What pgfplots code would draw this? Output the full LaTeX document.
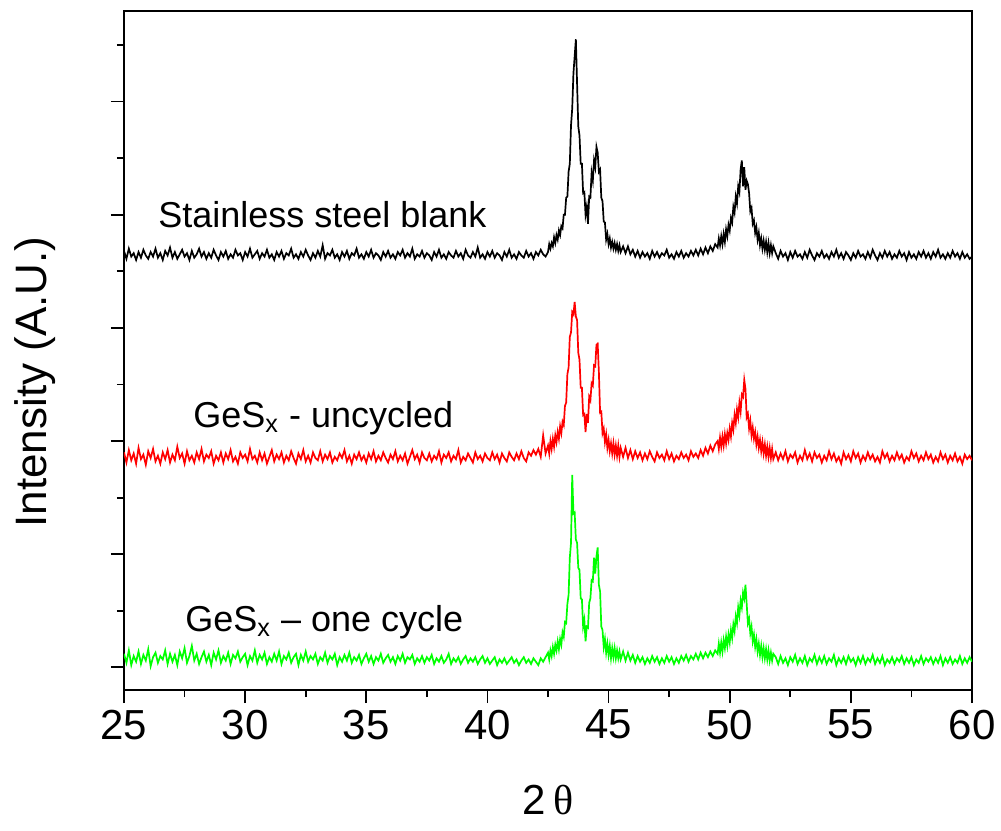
\documentclass[border=0pt]{standalone}
\usepackage{fontspec}
\setmainfont{Liberation Sans}
\newfontfamily\seriffont{Liberation Serif}
\usepackage{pgfplots}
\pgfplotsset{compat=1.18}
\usepackage{pgfplotstable}
\pgfplotstableread{
x k r g
25.0 368 190 12
25.1 361 181 4
25.2 370 192 15
25.3 363 183 2
25.4 366 189 10
25.5 360 180 5
25.6 367 194 14
25.7 362 184 3
25.8 369 188 11
25.9 364 179 6
26.0 361 191 16
26.1 367 185 1
26.2 363 193 9
26.3 370 182 13
26.4 362 187 4
26.5 366 180 10
26.6 360 190 7
26.7 368 184 15
26.8 364 192 3
26.9 371 181 12
27.0 362 188 5
27.1 367 183 11
27.2 361 195 2
27.3 365 185 14
27.4 369 189 8
27.5 363 180 17
27.6 366 191 4
27.7 360 183 10
27.8 368 187 19
27.9 362 181 6
28.0 365 190 12
28.1 370 184 3
28.2 363 193 9
28.3 367 182 14
28.4 361 188 5
28.5 366 185 11
28.6 362 191 2
28.7 369 180 13
28.8 364 187 7
28.9 360 183 15
29.0 367 190 4
29.1 363 181 10
29.2 368 189 6
29.3 361 184 13
29.4 365 192 3
29.5 362 182 11
29.6 369 186 8
29.7 364 180 14
29.8 366 190 5
29.9 360 185 9
30.0 367 188 12
30.1 363 182 2
30.2 370 193 10
30.3 362 184 6
30.4 365 187 15
30.5 368 181 4
30.6 361 190 11
30.7 366 183 7
30.8 363 189 13
30.9 369 180 3
31.0 362 186 9
31.1 365 192 5
31.2 360 182 12
31.3 367 188 6
31.4 363 184 14
31.5 368 190 3
31.6 361 181 10
31.7 366 187 7
31.8 364 183 13
31.9 370 191 4
32.0 362 185 9
32.1 365 180 12
32.2 361 189 2
32.3 367 184 11
32.4 363 192 6
32.5 369 182 14
32.6 364 187 5
32.7 360 181 10
32.8 366 190 7
32.9 362 185 12
33.0 368 183 3
33.1 363 191 9
33.2 373 182 6
33.3 361 188 13
33.4 366 184 4
33.5 364 190 10
33.6 369 181 7
33.7 362 186 12
33.8 365 183 2
33.9 360 189 9
34.0 367 185 5
34.1 363 192 11
34.2 368 182 6
34.3 361 187 13
34.4 366 180 4
34.5 364 188 9
34.6 370 184 6
34.7 362 190 11
34.8 365 183 3
34.9 361 187 8
35.0 367 181 12
35.1 363 189 5
35.2 369 184 10
35.3 362 191 3
35.4 366 182 9
35.5 364 187 6
35.6 360 183 12
35.7 367 190 4
35.8 363 185 8
35.9 368 181 11
36.0 362 188 5
36.1 365 184 9
36.2 361 191 3
36.3 367 182 10
36.4 364 187 6
36.5 369 183 12
36.6 362 189 4
36.7 366 180 9
36.8 363 186 7
36.9 370 192 11
37.0 361 184 3
37.1 365 188 8
37.2 363 181 5
37.3 368 190 10
37.4 362 185 4
37.5 366 183 9
37.6 364 189 6
37.7 360 182 11
37.8 367 187 3
37.9 363 184 8
38.0 369 191 5
38.1 362 181 10
38.2 365 188 4
38.3 361 185 7
38.4 367 190 12
38.5 364 182 3
38.6 362 187 8
38.7 368 184 5
38.8 363 192 9
38.9 366 181 3
39.0 361 186 7
39.1 369 183 10
39.2 364 189 4
39.3 362 185 8
39.4 367 181 5
39.5 363 190 9
39.6 371 184 3
39.7 362 187 7
39.8 365 182 10
39.9 361 189 4
40.0 367 185 8
40.1 363 183 3
40.2 368 190 6
40.3 362 184 9
40.4 366 188 2
40.5 364 181 7
40.6 360 189 4
40.7 367 185 8
40.8 363 182 3
40.9 369 190 6
41.0 362 186 9
41.1 365 183 4
41.2 361 189 7
41.3 367 184 2
41.4 364 191 6
41.5 362 185 9
41.6 368 182 4
41.7 363 190 7
41.8 366 187 3
41.9 361 192 8
42.0 367 188 5
42.1 364 193 2
42.2 369 186 8
42.3 365 205 5
42.4 363 189 9
42.5 367 196 13
42.55 374 189 7
42.6 370 200 15
42.65 375 193 10
42.7 372 202 18
42.75 380 195 12
42.8 375 205 20
42.85 382 199 15
42.9 378 208 23
42.95 386 202 16
43.0 382 213 25
43.05 390 207 20
43.1 388 217 31
43.15 400 214 27
43.2 400 231 40
43.25 415 234 39
43.3 416 259 56
43.35 438 265 64
43.4 445 292 97
43.45 479 296 110
43.5 494 314 170
43.55 525 312 136
43.6 540 323 137
43.65 555 310 113
43.7 516 307 110
43.75 478 278 88
43.8 470 272 86
43.85 445 247 61
43.9 445 247 60
43.95 419 223 36
44.0 420 224 42
44.05 400 208 23
44.1 407 224 36
44.15 392 216 35
44.2 416 239 57
44.25 415 236 61
44.3 437 251 77
44.35 430 249 76
44.4 448 267 97
44.45 442 266 83
44.5 460 285 98
44.55 455 286 106
44.6 438 261 73
44.65 440 225 67
44.7 415 226 36
44.75 412 207 33
44.8 394 211 18
44.85 393 199 25
44.9 378 206 13
44.95 383 194 21
45.0 374 201 11
45.05 379 191 19
45.1 371 198 8
45.15 376 189 17
45.2 370 198 9
45.25 375 188 17
45.3 369 196 8
45.35 374 187 15
45.4 368 196 8
45.45 373 186 14
45.5 367 194 7
45.6 372 186 14
45.7 366 194 6
45.8 372 185 13
45.9 365 192 6
46.0 369 184 11
46.1 363 191 4
46.2 368 185 10
46.3 362 190 5
46.4 367 183 9
46.5 363 189 3
46.6 366 184 8
46.7 361 191 4
46.8 368 186 10
46.9 363 182 5
47.0 367 190 9
47.1 362 185 3
47.2 366 188 8
47.3 364 183 4
47.4 369 191 10
47.5 362 184 5
47.6 365 189 9
47.7 361 182 3
47.8 367 187 8
47.9 363 184 4
48.0 368 190 10
48.1 362 185 6
48.2 366 188 11
48.3 363 183 5
48.4 368 191 10
48.5 364 186 7
48.6 369 189 12
48.7 364 185 7
48.8 370 192 13
48.9 365 187 8
49.0 371 194 13
49.1 366 189 9
49.2 372 196 14
49.3 368 191 10
49.4 374 197 15
49.5 371 200 12
49.55 379 193 21
49.6 373 203 13
49.65 381 195 22
49.7 374 204 14
49.75 383 196 24
49.8 376 206 17
49.85 387 198 27
49.9 381 207 19
49.95 391 201 29
50.0 386 211 22
50.05 397 204 33
50.1 393 216 26
50.15 407 210 38
50.2 402 223 32
50.25 416 216 45
50.3 410 228 39
50.35 425 221 53
50.4 420 234 46
50.45 440 226 59
50.5 448 241 53
50.55 425 239 66
50.6 442 254 61
50.65 422 246 73
50.7 430 221 56
50.75 427 224 39
50.8 419 211 43
50.85 403 218 30
50.9 406 205 36
50.95 392 212 23
51.0 395 202 29
51.05 384 208 18
51.1 389 197 25
51.15 378 204 14
51.2 384 194 21
51.25 373 201 11
51.3 379 191 19
51.35 370 199 9
51.4 377 189 17
51.45 369 197 8
51.5 376 187 16
51.55 367 195 7
51.6 375 186 15
51.65 366 194 6
51.7 373 185 13
51.75 366 193 6
51.8 372 184 12
51.9 366 190 9
52.0 361 183 3
52.1 368 189 10
52.2 363 184 4
52.3 366 191 8
52.4 360 182 2
52.5 367 188 9
52.6 362 185 5
52.7 368 190 11
52.8 363 181 3
52.9 365 187 8
53.0 361 183 4
53.1 367 192 10
53.2 362 184 2
53.3 369 189 8
53.4 364 182 5
53.5 360 190 11
53.6 366 185 3
53.7 363 188 9
53.8 368 181 4
53.9 362 187 10
54.0 365 183 3
54.1 361 191 8
54.2 367 184 5
54.3 363 189 11
54.4 369 182 2
54.5 362 186 8
54.6 366 180 4
54.7 361 190 9
54.8 367 184 3
54.9 364 188 10
55.0 360 182 5
55.1 366 191 8
55.2 362 185 2
55.3 368 189 9
55.4 363 181 4
55.5 365 187 10
55.6 361 183 3
55.7 367 190 8
55.8 362 184 5
55.9 369 188 11
56.0 364 182 3
56.1 360 186 8
56.2 366 181 4
56.3 362 191 10
56.4 368 185 2
56.5 363 189 7
56.6 367 182 4
56.7 361 187 9
56.8 365 183 3
56.9 362 190 8
57.0 368 184 5
57.1 363 188 10
57.2 366 181 3
57.3 360 186 8
57.4 367 183 4
57.5 362 191 9
57.6 365 185 2
57.7 361 189 7
57.8 367 182 4
57.9 363 187 10
58.0 368 183 3
58.1 362 190 8
58.2 366 184 5
58.3 361 188 9
58.4 367 181 3
58.5 363 186 8
58.6 369 182 4
58.7 362 190 10
58.8 365 184 2
58.9 361 188 8
59.0 366 181 4
59.1 362 187 9
59.2 368 183 3
59.3 363 189 7
59.4 366 182 4
59.5 361 186 10
59.6 367 180 3
59.7 362 188 8
59.8 365 184 4
59.9 361 187 9
60.0 363 183 5
}\xrd
\begin{document}
\begin{tikzpicture}
\useasboundingbox (-62pt,-70pt) rectangle (438.5pt,345pt);
\begin{axis}[
  at={(0,0)}, anchor=south west,
  scale only axis, width=424pt, height=339.5pt,
  xmin=25, xmax=60, ymin=-20, ymax=580,
  xtick={25,30,...,60}, minor x tick num=1,
  ytick={0,100,...,500}, minor ytick={50,150,...,550}, yticklabels={},
  tick align=outside, xtick pos=bottom, ytick pos=left,
  major tick length=6.5pt, minor tick length=3.5pt,
  axis line style={line width=1pt},
  every tick/.style={black, line width=0.9pt},
  /pgf/number format/assume math mode=true,
  xticklabel style={font=\fontsize{21}{21}\selectfont},
  xlabel={2\,{\seriffont θ}},
  xlabel style={font=\fontsize{21}{21}\selectfont, at={(axis description cs:0.5,-0.162)}, anchor=center},
  ylabel={Intensity (A.U.)},
  ylabel style={font=\fontsize{22}{22}\selectfont, at={(axis description cs:-0.105,0.4536)}, anchor=center},
]
\addplot[black, line width=0.85pt] table[x=x, y=k] {\xrd};
\addplot[red, line width=0.85pt] table[x=x, y=r] {\xrd};
\addplot[color={rgb,255:red,0;green,255;blue,0}, line width=0.85pt] table[x=x, y=g] {\xrd};
\node[anchor=base west, font=\fontsize{18}{18}\selectfont, inner sep=0pt] at (axis cs:26.4,389) {Stainless steel blank};
\node[anchor=base west, font=\fontsize{18}{18}\selectfont, inner sep=0pt] at (axis cs:27.85,212) {GeS\textsubscript{x} - uncycled};
\node[anchor=base west, font=\fontsize{18}{18}\selectfont, inner sep=0pt] at (axis cs:27.52,32) {GeS\textsubscript{x} -- one cycle};
\end{axis}
\end{tikzpicture}
\end{document}
